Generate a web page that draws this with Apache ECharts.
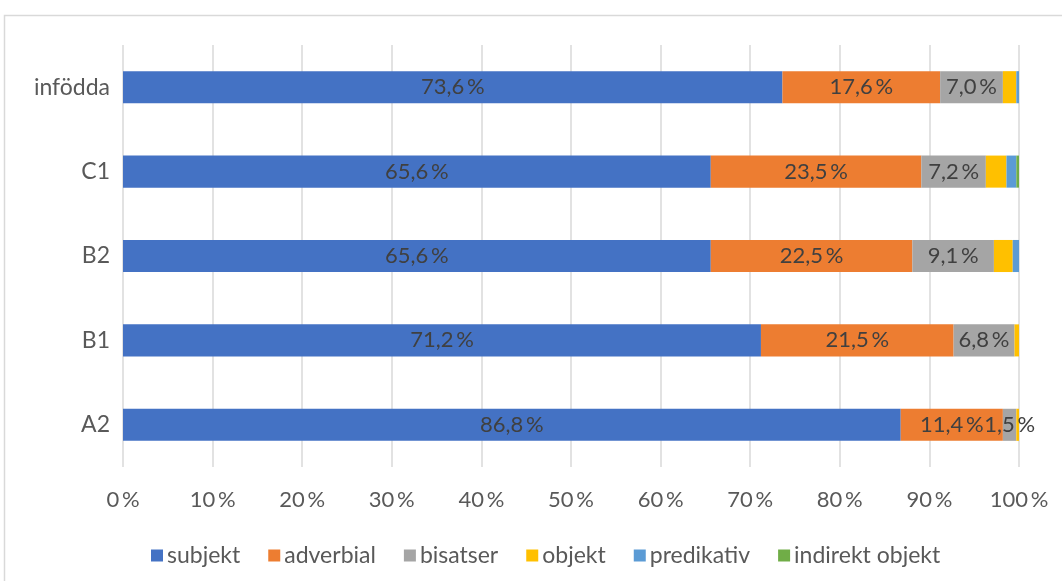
<!DOCTYPE html>
<html><head><meta charset="utf-8">
<script src="https://cdn.jsdelivr.net/npm/echarts@6/dist/echarts.min.js"></script>
<style>html,body{margin:0;padding:0;background:#fff}#c{width:1062px;height:581px}</style>
</head><body><div id="c"></div>
<script>
const categories = ['A2', 'B1', 'B2', 'C1', 'infödda'];
const subjekt = [86.8, 71.2, 65.6, 65.6, 73.6];
const adverbial = [11.4, 21.5, 22.5, 23.5, 17.6];
const bisatser = [1.5, 6.8, 9.1, 7.2, 7.0];
const objekt = [0.3, 0.5, 2.1, 2.3, 1.5];
const predikativ = [0, 0, 0.7, 1.1, 0.3];
const indirektObjekt = [0, 0, 0, 0.3, 0];
const seriesNames = ['subjekt', 'adverbial', 'bisatser', 'objekt', 'predikativ', 'indirekt objekt'];
const colors = ['#4472C4', '#ED7D31', '#A5A5A5', '#FFC000', '#5B9BD5', '#70AD47'];
const labelled = [true, true, true, false, false, false];
const dataSets = [subjekt, adverbial, bisatser, objekt, predikativ, indirektObjekt];
const FONT = 'Lato';
const fmt = v => String(v.toFixed(1)).replace('.', ',') + '\u2009%';

const chart = echarts.init(document.getElementById('c'));
chart.setOption({
  animation: false,
  textStyle: { fontFamily: FONT },
  graphic: [{ type: 'rect', shape: { x: 4.5, y: 15.5, width: 1070, height: 580 }, style: { fill: 'none', stroke: '#d9d9d9', lineWidth: 1.5 } }],
  legend: {
    top: 539, left: 146, itemWidth: 12, itemHeight: 12, itemGap: 28,
    icon: 'rect',
    textStyle: { fontSize: 23, color: '#595959', fontFamily: FONT, padding: [0, 0, 0, -1] },
    data: seriesNames
  },
  grid: { left: 123, right: 43, top: 45, bottom: 114, containLabel: false },
  xAxis: {
    type: 'value', min: 0, max: 100, interval: 10,
    axisLine: { show: false }, axisTick: { show: false },
    splitLine: { lineStyle: { color: '#d9d9d9', width: 1.5 } },
    axisLabel: { formatter: v => v + '\u2009%', color: '#595959', fontSize: 22, margin: 22, fontFamily: FONT }
  },
  yAxis: {
    type: 'category', data: categories,
    axisLine: { show: false }, axisTick: { show: false },
    axisLabel: { color: '#595959', fontSize: 23, margin: 13, fontFamily: FONT }
  },
  series: seriesNames.map((n, i) => ({
    name: n, type: 'bar', stack: 'total', barWidth: '38%',
    itemStyle: { color: colors[i] },
    label: {
      show: labelled[i], position: 'inside', color: '#404040', fontSize: 22, fontFamily: FONT,
      formatter: p => fmt(p.value)
    },
    data: dataSets[i]
  }))
});
</script></body></html>
